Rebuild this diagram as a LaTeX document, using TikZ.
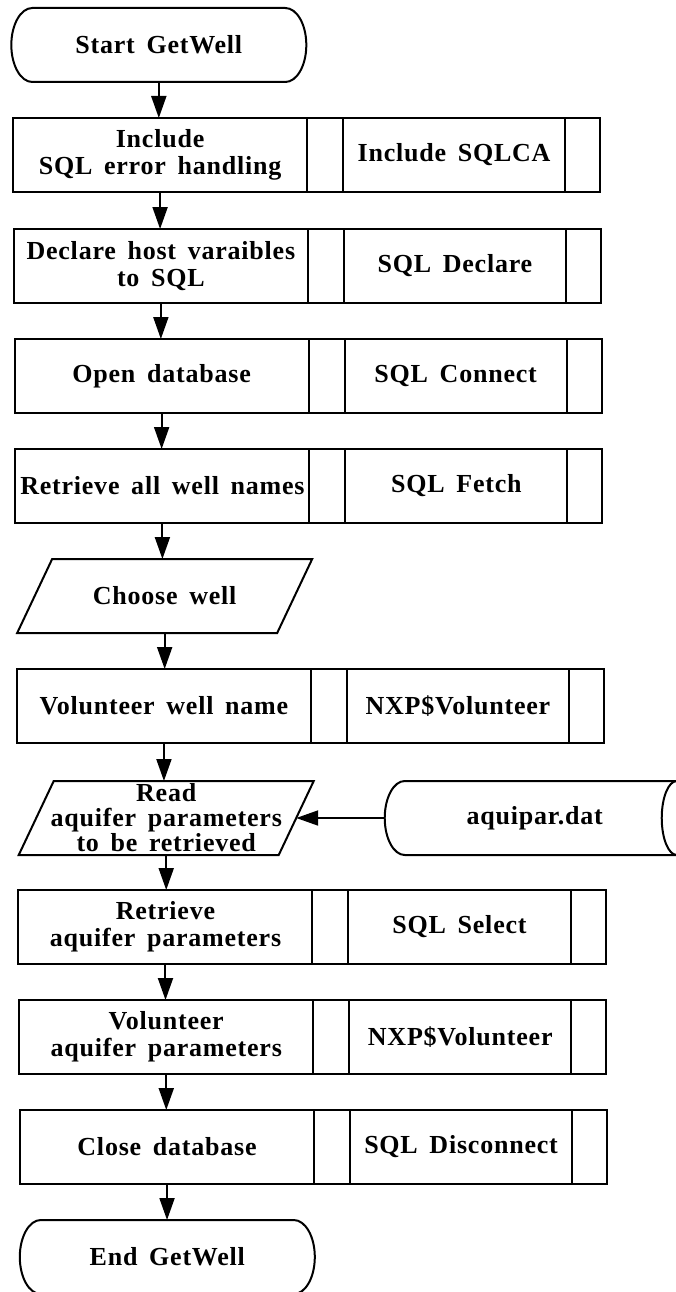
\documentclass[tikz,border=0pt]{standalone}
\usepackage{fontspec}
\setmainfont{Liberation Serif}[LetterSpace=3,WordSpace=1.6]
\usetikzlibrary{arrows.meta,calc}

% one process row: action box, two bars and the routine box
\newcommand\procrow[4]{%
  \node[proc, minimum width=294pt] (#1) at (159,#2) {#3};
  \node[bar, anchor=west] (#1a) at (#1.east) {};
  \node[proc, minimum width=222pt, anchor=west] (#1s) at (#1a.east) {#4};
  \node[bar, minimum width=35pt, anchor=west] (#1b) at (#1s.east) {};
}

\begin{document}
\begin{tikzpicture}[
    x=1pt, y={(0.007pt,-1pt)},
    font=\bfseries\fontsize{26}{27}\selectfont,
    line width=2pt,
    proc/.style={draw, minimum height=74pt, inner sep=0pt, outer sep=0pt, align=center},
    bar/.style={proc, minimum width=36pt},
    frame/.style={minimum height=74pt, inner sep=0pt, outer sep=0pt, align=center},
    arr/.style={-{Triangle[width=15pt,length=22pt]}},
  ]
  \useasboundingbox (0pt,0pt) rectangle (676pt,-1292pt);
  \clip (0pt,0pt) rectangle (676pt,-1292pt);

  % start terminal
  \node[frame, minimum width=295pt] (start) at (158.5,45) {Start GetWell};
  \draw ($(start.north west)+(21pt,0)$) -- ($(start.north east)+(-21pt,0)$)
    arc[start angle=90, end angle=-90, x radius=21pt, y radius=37pt]
    -- ($(start.south west)+(21pt,0)$)
    arc[start angle=270, end angle=90, x radius=21pt, y radius=37pt] -- cycle;

  \procrow{inc}{155}{Include\\SQL error handling}{Include SQLCA}
  \procrow{decl}{266}{Declare host varaibles\\to SQL}{SQL Declare}
  \procrow{open}{376}{Open database}{SQL Connect}
  \procrow{fetch}{486}{Retrieve all well names}{SQL Fetch}

  % manual input
  \node[frame, minimum width=260pt] (choose) at (160.5,596) {Choose well};
  \draw ($(choose.north west)+(17.5pt,0)$) -- ($(choose.north east)+(17.5pt,0)$)
    -- ($(choose.south east)+(-17.5pt,0)$) -- ($(choose.south west)+(-17.5pt,0)$) -- cycle;

  \procrow{volw}{706}{Volunteer well name}{NXP\$Volunteer}

  % read step fed by the data file
  \node[frame, minimum width=260pt, font=\bfseries\fontsize{26}{25}\selectfont] (read) at (160.5,818)
    {Read\\aquifer parameters\\to be retrieved};
  \draw ($(read.north west)+(17.5pt,0)$) -- ($(read.north east)+(17.5pt,0)$)
    -- ($(read.south east)+(-17.5pt,0)$) -- ($(read.south west)+(-17.5pt,0)$) -- cycle;

  \node[frame, minimum width=300pt] (dat) at (529,818) {aquipar.dat};
  \draw ($(dat.north east)+(8pt,0)$) -- ($(dat.north west)+(20pt,0)$)
    arc[start angle=90, end angle=270, x radius=20pt, y radius=37pt]
    -- ($(dat.south east)+(8pt,0)$);
  \draw ($(dat.north east)+(-8pt,0)$)
    arc[start angle=90, end angle=270, x radius=15pt, y radius=37pt];

  \procrow{sel}{927}{Retrieve\\aquifer parameters}{SQL Select}
  \procrow{vola}{1037}{Volunteer\\aquifer parameters}{NXP\$Volunteer}
  \procrow{close}{1147}{Close database}{SQL Disconnect}

  % end terminal
  \node[frame, minimum width=295pt] (end) at (158.5,1257) {End GetWell};
  \draw ($(end.north west)+(21pt,0)$) -- ($(end.north east)+(-21pt,0)$)
    arc[start angle=90, end angle=-90, x radius=21pt, y radius=37pt]
    -- ($(end.south west)+(21pt,0)$)
    arc[start angle=270, end angle=90, x radius=21pt, y radius=37pt] -- cycle;

  % flow
  \draw[arr] (start.south) -- (start.south |- inc.north);
  \draw[arr] (inc.south) -- (inc.south |- decl.north);
  \draw[arr] (decl.south) -- (decl.south |- open.north);
  \draw[arr] (open.south) -- (open.south |- fetch.north);
  \draw[arr] (fetch.south) -- (fetch.south |- choose.north);
  \draw[arr] (choose.south) -- (choose.south |- volw.north);
  \draw[arr] (volw.south) -- (volw.south |- read.north);
  \draw[arr] (read.south) -- (read.south |- sel.north);
  \draw[arr] (sel.south) -- (sel.south |- vola.north);
  \draw[arr] (vola.south) -- (vola.south |- close.north);
  \draw[arr] (close.south) -- (close.south |- end.north);
  \draw[arr] (dat.west) -- (read.east);
\end{tikzpicture}
\end{document}
